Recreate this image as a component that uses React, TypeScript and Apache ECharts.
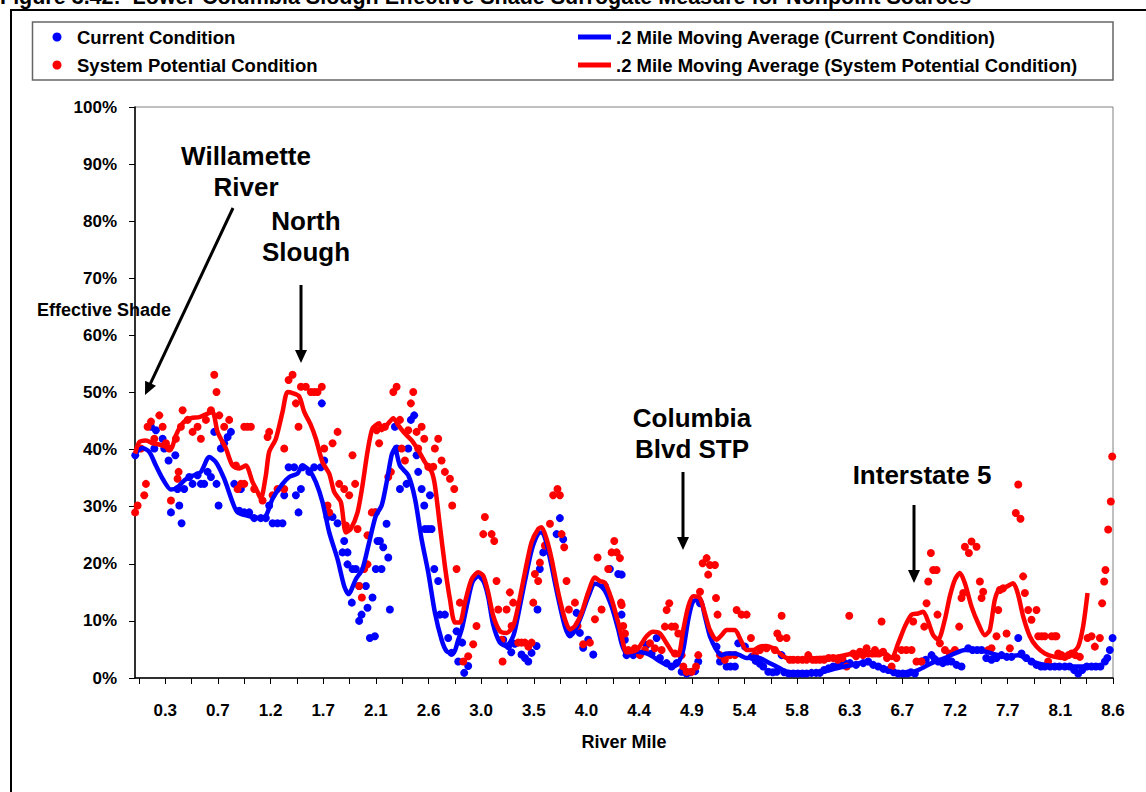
import React, { useEffect, useRef } from 'react';
import * as echarts from 'echarts';

const FONT = '"Liberation Sans", Arial, Helvetica, sans-serif';

const titleText = 'Figure 3.42:  Lower Columbia Slough Effective Shade Surrogate Measure for Nonpoint Sources';
const yAxisTitle = 'Effective Shade';
const xAxisTitle = 'River Mile';

const seriesNames = [
  'Current Condition',
  'System Potential Condition',
  '.2 Mile Moving Average (Current Condition)',
  '.2 Mile Moving Average (System Potential Condition)',
];

const tickLabels = ['0.3', '0.7', '1.2', '1.7', '2.1', '2.6', '3.0', '3.5', '4.0', '4.4', '4.9', '5.4', '5.8', '6.3', '6.7', '7.2', '7.7', '8.1', '8.6'];
const firstLabelMile = 0.3;
const lastLabelMile = 8.6;
const axisMinMile = 0.035;

// [river mile, effective shade %]
const currentCondition: [number, number][] = [
  [0.037, 39.0], [0.175, 44.0], [0.204, 40.2], [0.218, 43.4], [0.277, 41.9], [0.291, 40.2], [0.329, 38.1], [0.35, 29.0],
  [0.388, 39.0], [0.408, 33.1], [0.423, 30.2], [0.443, 27.1], [0.466, 33.1], [0.51, 35.2], [0.539, 34.0], [0.583, 35.5],
  [0.612, 34.0], [0.641, 34.0], [0.671, 36.1], [0.70, 35.2], [0.729, 43.1], [0.749, 34.0], [0.767, 30.2], [0.787, 40.2],
  [0.816, 41.1], [0.846, 42.2], [0.875, 43.1], [0.904, 34.0], [0.948, 29.3], [0.962, 33.1], [0.992, 29.0], [1.035, 29.0],
  [1.079, 28.0], [1.137, 28.0], [1.181, 28.0], [1.21, 30.2], [1.24, 27.1], [1.283, 27.1], [1.327, 27.1], [1.342, 32.0],
  [1.38, 36.9], [1.429, 36.9], [1.444, 32.0], [1.467, 29.0], [1.488, 33.1], [1.502, 36.9], [1.561, 36.1], [1.604, 36.9],
  [1.663, 36.9], [1.671, 48.1], [1.692, 38.1], [1.721, 28.2], [1.765, 28.2], [1.809, 27.1], [1.852, 22.0], [1.867, 24.0],
  [1.896, 22.0], [1.896, 19.9], [1.934, 13.2], [1.94, 19.1], [1.969, 19.1], [1.998, 16.1], [1.998, 10.0], [2.019, 11.1],
  [2.057, 16.1], [2.071, 12.3], [2.092, 7.0], [2.115, 14.1], [2.136, 7.3], [2.144, 19.1], [2.144, 29.0], [2.159, 24.0],
  [2.18, 24.0], [2.194, 19.1], [2.209, 22.9], [2.238, 27.0], [2.253, 21.1], [2.267, 12.0], [2.311, 44.0], [2.326, 40.2],
  [2.355, 33.1], [2.413, 34.0], [2.428, 40.2], [2.451, 45.2], [2.48, 46.0], [2.501, 39.0], [2.515, 36.1], [2.545, 33.1],
  [2.568, 30.2], [2.574, 26.1], [2.603, 26.1], [2.618, 32.0], [2.632, 26.1], [2.656, 19.1], [2.69, 17.0], [2.705, 11.1],
  [2.749, 11.1], [2.778, 7.0], [2.807, 4.4], [2.851, 8.2], [2.866, 2.9], [2.9, 6.2], [2.918, 0.9], [2.953, 2.1],
  [3.26, 6.7], [3.304, 5.6], [3.33, 4.5], [3.36, 6.0], [3.42, 4.1], [3.45, 3.5], [3.479, 2.9], [3.508, 4.4],
  [3.552, 5.6], [3.56, 12.0], [3.58, 19.1], [3.61, 22.0], [3.727, 25.2], [3.756, 28.0], [3.785, 24.3], [3.858, 8.2],
  [3.902, 11.4], [3.931, 7.9], [3.96, 5.3], [4.004, 6.7], [4.048, 4.1], [4.15, 16.1], [4.194, 19.1], [4.267, 18.2],
  [4.296, 11.1], [4.297, 18.1], [4.325, 6.7], [4.34, 4.0], [4.399, 4.0], [4.457, 4.3], [4.515, 5.8], [4.559, 4.3],
  [4.603, 7.0], [4.632, 3.5], [4.691, 2.6], [4.734, 2.0], [4.778, 2.6], [4.822, 1.1], [4.866, 0.8], [4.90, 1.0],
  [4.94, 1.2], [4.968, 2.9], [4.983, 13.1], [5.128, 5.5], [5.158, 2.9], [5.216, 2.0], [5.25, 2.0], [5.289, 2.0],
  [5.318, 6.1], [5.377, 5.5], [5.435, 3.7], [5.47, 3.0], [5.508, 2.5], [5.537, 2.0], [5.581, 1.1], [5.62, 1.0],
  [5.654, 1.1], [5.698, 4.0], [5.72, 1.0], [5.76, 0.8], [5.8, 0.8], [5.84, 0.8], [5.88, 0.8], [5.917, 0.8],
  [5.96, 0.9], [6.0, 0.9], [6.033, 0.9], [6.07, 1.4], [6.11, 1.7], [6.15, 2.0], [6.2, 2.3], [6.25, 2.6],
  [6.296, 2.6], [6.35, 2.3], [6.413, 2.6], [6.456, 2.9], [6.5, 2.3], [6.544, 2.0], [6.59, 1.6], [6.631, 1.4],
  [6.68, 1.0], [6.719, 0.8], [6.76, 0.8], [6.8, 0.8], [6.83, 1.0], [6.865, 0.8], [6.923, 2.9], [6.96, 3.2],
  [7.011, 4.0], [7.04, 3.3], [7.069, 2.9], [7.11, 2.6], [7.15, 2.9], [7.186, 2.9], [7.23, 2.3], [7.273, 2.0],
  [7.332, 5.2], [7.37, 4.9], [7.41, 4.9], [7.449, 4.9], [7.49, 3.5], [7.536, 3.2], [7.58, 3.5], [7.624, 4.0],
  [7.67, 3.7], [7.711, 3.7], [7.77, 7.0], [7.799, 4.3], [7.84, 3.5], [7.886, 2.9], [7.93, 2.3], [7.97, 2.0],
  [8.003, 2.0], [8.05, 2.0], [8.09, 2.0], [8.13, 2.0], [8.178, 2.0], [8.22, 2.0], [8.26, 1.4], [8.295, 0.8],
  [8.33, 1.4], [8.37, 2.0], [8.412, 2.0], [8.45, 2.0], [8.49, 2.0], [8.529, 2.9], [8.55, 3.5], [8.572, 4.9],
  [8.596, 7.0],
];

const systemPotential: [number, number][] = [
  [0.036, 29.0], [0.058, 30.2], [0.087, 40.2], [0.116, 32.0], [0.131, 34.0], [0.145, 44.0], [0.175, 44.9], [0.204, 41.9],
  [0.248, 46.0], [0.277, 44.0], [0.306, 41.1], [0.335, 40.2], [0.35, 31.1], [0.393, 41.9], [0.408, 34.9], [0.417, 36.1],
  [0.437, 44.0], [0.452, 46.9], [0.496, 45.2], [0.539, 43.1], [0.583, 44.0], [0.612, 41.9], [0.656, 45.2], [0.70, 46.9],
  [0.729, 53.1], [0.749, 50.1], [0.773, 46.0], [0.816, 44.0], [0.86, 45.2], [0.919, 37.2], [0.933, 33.1], [0.962, 34.0],
  [0.992, 44.0], [0.992, 34.0], [1.02, 44.0], [1.05, 44.0], [1.079, 33.1], [1.152, 31.1], [1.196, 42.2], [1.21, 43.1],
  [1.24, 32.0], [1.283, 33.1], [1.342, 33.1], [1.342, 40.2], [1.38, 52.2], [1.415, 53.1], [1.444, 48.1], [1.467, 44.0],
  [1.488, 51.0], [1.531, 51.0], [1.575, 50.1], [1.605, 50.1], [1.634, 50.1], [1.671, 51.0], [1.692, 40.2], [1.721, 30.2],
  [1.736, 29.0], [1.765, 41.1], [1.809, 43.1], [1.823, 34.0], [1.867, 33.1], [1.882, 26.7], [1.911, 32.0], [1.94, 39.0],
  [1.963, 34.0], [1.984, 26.1], [1.998, 16.1], [2.022, 14.1], [2.042, 19.1], [2.071, 19.9], [2.071, 25.0], [2.109, 29.0],
  [2.136, 29.0], [2.151, 43.4], [2.173, 41.1], [2.224, 44.0], [2.253, 35.2], [2.276, 36.1], [2.297, 50.1], [2.326, 51.0],
  [2.355, 45.2], [2.37, 40.2], [2.399, 38.1], [2.428, 43.4], [2.451, 48.1], [2.472, 50.1], [2.501, 43.1], [2.515, 40.2],
  [2.545, 44.0], [2.568, 41.9], [2.603, 37.0], [2.647, 37.0], [2.661, 40.2], [2.69, 41.9], [2.72, 38.1], [2.749, 36.1],
  [2.793, 34.9], [2.813, 30.2], [2.831, 33.1], [2.851, 19.1], [2.88, 13.2], [2.91, 2.9], [2.953, 3.8], [2.997, 5.9],
  [3.026, 9.1], [3.085, 25.2], [3.099, 28.2], [3.158, 25.2], [3.181, 24.0], [3.201, 17.0], [3.216, 12.0], [3.245, 6.7],
  [3.254, 2.9], [3.289, 12.0], [3.318, 15.0], [3.333, 9.1], [3.347, 13.2], [3.391, 6.2], [3.42, 6.2], [3.45, 6.2],
  [3.48, 5.5], [3.508, 6.2], [3.523, 13.2], [3.537, 18.2], [3.566, 17.0], [3.581, 20.2], [3.625, 23.2], [3.669, 27.0],
  [3.697, 32.0], [3.735, 33.1], [3.756, 32.0], [3.771, 25.2], [3.794, 22.9], [3.814, 17.0], [3.835, 12.0], [3.888, 13.2],
  [3.911, 9.1], [3.96, 5.9], [4.019, 6.2], [4.063, 10.3], [4.086, 21.1], [4.121, 12.0], [4.179, 19.1], [4.209, 22.0],
  [4.232, 24.0], [4.253, 22.0], [4.282, 21.0], [4.291, 13.2], [4.297, 12.8], [4.311, 9.1], [4.326, 7.8], [4.355, 4.9],
  [4.413, 5.2], [4.457, 4.0], [4.501, 4.9], [4.545, 6.1], [4.588, 5.2], [4.647, 4.9], [4.676, 9.0], [4.691, 11.9],
  [4.714, 13.1], [4.734, 9.0], [4.764, 9.0], [4.764, 4.3], [4.793, 7.8], [4.822, 4.0], [4.837, 2.0], [4.866, 1.1],
  [4.91, 1.1], [4.948, 2.0], [4.968, 4.0], [4.983, 15.1], [5.006, 20.1], [5.041, 21.0], [5.055, 18.1], [5.07, 19.8],
  [5.114, 19.8], [5.123, 14.0], [5.137, 11.1], [5.158, 4.0], [5.201, 3.2], [5.245, 4.0], [5.289, 4.0], [5.304, 11.9],
  [5.347, 11.1], [5.391, 11.1], [5.429, 7.0], [5.464, 4.0], [5.508, 4.9], [5.566, 5.2], [5.639, 4.9], [5.66, 7.8],
  [5.683, 7.0], [5.698, 10.9], [5.741, 7.0], [5.77, 3.2], [5.8, 3.2], [5.84, 3.2], [5.88, 3.2], [5.917, 3.2],
  [5.931, 4.0], [5.97, 3.2], [6.0, 3.2], [6.033, 3.2], [6.07, 3.2], [6.11, 3.5], [6.15, 3.5], [6.19, 3.2],
  [6.23, 3.5], [6.267, 2.0], [6.29, 10.9], [6.325, 4.3], [6.35, 3.8], [6.384, 4.6], [6.41, 4.0], [6.442, 5.2],
  [6.456, 4.3], [6.49, 4.3], [6.515, 4.9], [6.55, 4.3], [6.573, 9.9], [6.587, 4.6], [6.62, 3.5], [6.661, 2.0],
  [6.704, 3.5], [6.748, 4.9], [6.79, 4.9], [6.836, 4.9], [6.85, 9.9], [6.879, 2.9], [6.923, 2.9], [6.947, 9.0],
  [6.967, 13.1], [6.982, 16.9], [7.005, 21.9], [7.025, 18.9], [7.055, 18.9], [7.063, 11.1], [7.084, 6.1], [7.128, 4.9],
  [7.171, 4.3], [7.215, 4.9], [7.253, 9.0], [7.273, 14.0], [7.288, 14.9], [7.303, 23.0], [7.338, 21.9], [7.361, 23.9],
  [7.405, 23.0], [7.434, 16.9], [7.449, 14.0], [7.463, 15.1], [7.507, 4.9], [7.536, 5.2], [7.58, 7.3], [7.595, 11.9],
  [7.609, 15.4], [7.638, 15.7], [7.668, 7.8], [7.697, 5.2], [7.749, 28.9], [7.77, 33.9], [7.79, 27.9], [7.813, 17.8],
  [7.828, 14.9], [7.857, 11.9], [7.886, 10.2], [7.93, 11.9], [7.945, 7.3], [7.975, 7.3], [8.003, 7.3], [8.032, 2.9],
  [8.062, 7.3], [8.09, 7.3], [8.105, 7.3], [8.12, 4.3], [8.15, 4.0], [8.178, 3.7], [8.21, 4.0], [8.237, 4.3],
  [8.27, 4.0], [8.31, 3.7], [8.377, 7.0], [8.412, 7.3], [8.441, 5.5], [8.485, 7.0], [8.505, 13.1], [8.523, 16.9],
  [8.534, 18.9], [8.558, 26.0], [8.581, 30.9], [8.593, 38.8],
];

const movingAvgCurrent: [number, number][] = [
  [0.036, 39.3], [0.10, 40.3], [0.16, 39.6], [0.218, 37.2], [0.277, 34.9], [0.35, 33.0], [0.408, 33.4], [0.466, 34.6],
  [0.539, 35.4], [0.612, 36.1], [0.685, 38.7], [0.744, 37.8], [0.816, 34.9], [0.889, 30.8], [0.933, 29.0], [1.021, 28.4],
  [1.123, 28.0], [1.181, 28.4], [1.24, 31.4], [1.327, 34.0], [1.386, 35.2], [1.458, 35.8], [1.502, 37.2], [1.561, 36.4],
  [1.619, 34.3], [1.677, 30.8], [1.736, 25.5], [1.809, 20.8], [1.867, 16.1], [1.905, 14.7], [1.969, 17.3], [2.027, 19.1],
  [2.086, 23.8], [2.144, 28.4], [2.195, 30.2], [2.239, 34.3], [2.282, 39.0], [2.311, 40.2], [2.355, 37.2], [2.428, 35.5],
  [2.487, 31.4], [2.545, 24.3], [2.603, 18.5], [2.662, 11.4], [2.72, 6.7], [2.764, 4.7], [2.822, 4.4], [2.866, 6.7],
  [2.90, 8.8], [2.95, 13.5], [2.99, 16.8], [3.04, 17.8], [3.09, 16.8], [3.13, 14.0], [3.17, 9.5], [3.23, 6.2],
  [3.29, 5.6], [3.35, 7.5], [3.39, 11.0], [3.45, 17.0], [3.51, 22.5], [3.566, 25.3], [3.60, 25.5], [3.64, 23.5],
  [3.684, 19.5], [3.741, 14.0], [3.80, 9.0], [3.844, 7.3], [3.888, 8.3], [3.946, 11.0], [4.004, 14.2], [4.063, 16.5],
  [4.106, 16.2], [4.15, 15.3], [4.209, 12.5], [4.267, 8.5], [4.30, 5.8], [4.34, 4.3], [4.428, 4.6], [4.515, 4.3],
  [4.573, 3.7], [4.632, 2.9], [4.69, 2.3], [4.748, 2.0], [4.792, 2.6], [4.836, 4.9], [4.88, 10.2], [4.923, 13.4],
  [4.982, 13.7], [5.026, 10.8], [5.07, 7.3], [5.128, 4.9], [5.172, 4.0], [5.216, 4.3], [5.289, 4.3], [5.332, 4.0],
  [5.391, 3.5], [5.449, 3.7], [5.508, 3.5], [5.566, 2.9], [5.624, 2.3], [5.683, 1.7], [5.741, 1.1], [5.858, 0.9],
  [6.033, 1.0], [6.179, 1.7], [6.325, 2.3], [6.43, 2.8], [6.544, 2.0], [6.661, 1.1], [6.777, 0.8], [6.894, 1.4],
  [7.011, 2.6], [7.127, 3.5], [7.215, 4.3], [7.303, 4.9], [7.419, 4.9], [7.536, 4.3], [7.668, 3.7], [7.769, 4.0],
  [7.886, 2.9], [8.003, 2.3], [8.178, 2.0], [8.377, 2.0],
];

const movingAvgPotential: [number, number][] = [
  [0.036, 39.3], [0.072, 41.3], [0.131, 41.6], [0.189, 41.1], [0.247, 40.9], [0.306, 40.5], [0.35, 40.2], [0.393, 42.5],
  [0.452, 44.6], [0.525, 45.5], [0.598, 45.7], [0.671, 46.3], [0.714, 46.6], [0.758, 43.1], [0.831, 40.2], [0.889, 37.2],
  [0.948, 36.7], [1.006, 37.2], [1.065, 34.3], [1.108, 32.6], [1.137, 31.4], [1.181, 35.5], [1.21, 39.6], [1.269, 41.9],
  [1.327, 46.6], [1.371, 50.1], [1.415, 49.9], [1.473, 49.3], [1.517, 46.6], [1.575, 44.3], [1.619, 41.9], [1.677, 37.8],
  [1.736, 35.8], [1.779, 32.6], [1.838, 30.8], [1.882, 25.5], [1.925, 26.1], [1.984, 29.0], [2.027, 33.7], [2.071, 39.6],
  [2.115, 43.7], [2.173, 44.6], [2.195, 43.4], [2.253, 44.6], [2.297, 45.5], [2.34, 44.3], [2.399, 42.8], [2.458, 41.6],
  [2.515, 39.9], [2.574, 37.8], [2.633, 36.1], [2.662, 33.7], [2.705, 26.7], [2.749, 19.6], [2.793, 13.8], [2.837, 9.7],
  [2.88, 9.7], [2.924, 13.2], [2.983, 17.3], [3.041, 18.5], [3.085, 17.9], [3.128, 15.0], [3.172, 10.9], [3.231, 8.2],
  [3.289, 7.9], [3.347, 9.1], [3.391, 12.6], [3.45, 18.5], [3.508, 23.8], [3.566, 26.1], [3.596, 26.4], [3.64, 24.3],
  [3.684, 20.8], [3.741, 15.0], [3.80, 10.3], [3.844, 8.5], [3.888, 9.1], [3.946, 11.4], [4.004, 15.0], [4.063, 17.6],
  [4.106, 17.0], [4.15, 16.7], [4.209, 13.8], [4.267, 9.7], [4.30, 7.0], [4.34, 4.5], [4.428, 4.9], [4.515, 7.3],
  [4.573, 8.1], [4.632, 7.8], [4.69, 6.1], [4.748, 4.3], [4.792, 4.0], [4.836, 8.4], [4.88, 12.5], [4.923, 14.3],
  [4.982, 14.0], [5.026, 11.3], [5.07, 8.4], [5.128, 6.7], [5.172, 7.5], [5.216, 8.4], [5.289, 8.4], [5.332, 7.0],
  [5.391, 4.9], [5.449, 4.9], [5.508, 5.5], [5.566, 5.6], [5.624, 5.2], [5.683, 4.3], [5.741, 3.5], [5.858, 3.3],
  [6.033, 3.5], [6.179, 3.7], [6.325, 4.3], [6.43, 4.5], [6.515, 4.0], [6.602, 4.3], [6.661, 3.5], [6.719, 6.1],
  [6.777, 9.0], [6.836, 11.1], [6.894, 11.3], [6.938, 11.6], [6.981, 9.9], [7.025, 7.5], [7.069, 6.7], [7.127, 10.2],
  [7.171, 14.3], [7.215, 17.2], [7.259, 18.4], [7.303, 16.6], [7.361, 12.5], [7.419, 9.6], [7.478, 7.5], [7.521, 8.4],
  [7.565, 13.7], [7.609, 15.7], [7.668, 16.0], [7.726, 16.6], [7.769, 14.6], [7.813, 10.8], [7.872, 7.3], [7.93, 5.5],
  [8.003, 4.3], [8.091, 3.7], [8.178, 3.5], [8.237, 4.3], [8.295, 5.5], [8.338, 9.0], [8.377, 14.9],
];

const annotationLabels = [
  { lines: ['Willamette', 'River'], x: 246, y: 156 },
  { lines: ['North', 'Slough'], x: 306, y: 221 },
  { lines: ['Columbia', 'Blvd STP'], x: 692, y: 418 },
  { lines: ['Interstate 5'], x: 922, y: 475 },
];

const annotationArrows = [
  { from: [233, 208], to: [145, 395] },
  { from: [301, 285], to: [301, 363] },
  { from: [683, 472], to: [683, 550] },
  { from: [914, 505], to: [914, 583] },
];

function arrowGraphics(from: number[], to: number[]) {
  const dx = to[0] - from[0];
  const dy = to[1] - from[1];
  const len = Math.sqrt(dx * dx + dy * dy);
  const ux = dx / len;
  const uy = dy / len;
  const headLen = 13;
  const halfW = 6;
  const bx = to[0] - ux * headLen;
  const by = to[1] - uy * headLen;
  const nx = -uy;
  const ny = ux;
  return [
    {
      type: 'line',
      z: 100,
      shape: { x1: from[0], y1: from[1], x2: bx + ux * 2, y2: by + uy * 2 },
      style: { stroke: '#000', lineWidth: 3 },
    },
    {
      type: 'polygon',
      z: 100,
      shape: { points: [[to[0], to[1]], [bx + nx * halfW, by + ny * halfW], [bx - nx * halfW, by - ny * halfW]] },
      style: { fill: '#000' },
    },
  ];
}

export default function App() {
  const ref = useRef<HTMLDivElement>(null);

  useEffect(() => {
    if (!ref.current) return;
    const chart = echarts.init(ref.current, null, { renderer: 'svg' });

    const labelStep = (lastLabelMile - firstLabelMile) / (tickLabels.length - 1);
    const labelPositions = tickLabels.map((_, i) => Number((firstLabelMile + i * labelStep).toFixed(5)));
    const tickPositions: number[] = [];
    for (let i = -1; i <= (tickLabels.length - 1) * 2; i++) {
      tickPositions.push(Number((firstLabelMile + (i * labelStep) / 2).toFixed(5)));
    }

    const boldText = (size: number) => ({ fontFamily: FONT, fontWeight: 'bold', fontSize: size, color: '#000' });

    const graphics: any[] = [
      {
        type: 'text', left: 0, top: -14, z: 100,
        style: { text: titleText, font: `bold 21.5px ${FONT}`, fill: '#000' },
      },
      {
        type: 'rect', z: -1, silent: true,
        shape: { x: 11, y: 10, width: 1300, height: 900 },
        style: { fill: 'none', stroke: '#000', lineWidth: 2 },
      },
      {
        type: 'rect', z: -1, silent: true,
        shape: { x: 32.5, y: 22, width: 1080.5, height: 58 },
        style: { fill: 'none', stroke: '#666', lineWidth: 1.5 },
      },
      {
        type: 'text', z: 100,
        x: 37, y: 310,
        style: { text: yAxisTitle, font: `bold 18px ${FONT}`, fill: '#000', textVerticalAlign: 'middle', verticalAlign: 'middle' },
      },
    ];

    annotationLabels.forEach((a) => {
      a.lines.forEach((line, j) => {
        graphics.push({
          type: 'text', z: 100,
          x: a.x, y: a.y + j * 31,
          style: {
            text: line, font: `bold 26px ${FONT}`, fill: '#000',
            textAlign: 'center', align: 'center', textVerticalAlign: 'middle', verticalAlign: 'middle',
          },
        });
      });
    });
    annotationArrows.forEach((a) => graphics.push(...arrowGraphics(a.from, a.to)));

    const option: any = {
      animation: false,
      backgroundColor: '#ffffff',
      textStyle: { fontFamily: FONT },
      grid: {
        left: 135, right: 33, top: 107, bottom: 114,
        show: true, borderColor: '#808080', borderWidth: 1, backgroundColor: 'transparent',
      },
      legend: [
        {
          data: [seriesNames[0], seriesNames[1]],
          orient: 'vertical', left: 47.5, top: 22,
          itemWidth: 30, itemHeight: 9, itemGap: 8, icon: 'circle',
          selectedMode: false,
          itemStyle: { opacity: 1 },
          textStyle: { ...boldText(18.5), lineHeight: 20 },
        },
        {
          data: [seriesNames[2], seriesNames[3]],
          orient: 'vertical', left: 573, top: 22,
          itemWidth: 33, itemHeight: 5, itemGap: 8, icon: 'rect',
          selectedMode: false,
          textStyle: { ...boldText(18.5), lineHeight: 20 },
        },
      ],
      xAxis: {
        type: 'value',
        min: axisMinMile,
        max: lastLabelMile,
        name: xAxisTitle,
        nameLocation: 'middle',
        nameGap: 55,
        nameTextStyle: boldText(18),
        axisLine: { show: true, onZero: false, lineStyle: { color: '#000', width: 1.5 } },
        axisTick: { show: true, length: 6, lineStyle: { color: '#000', width: 1 }, customValues: tickPositions },
        axisLabel: {
          ...boldText(17),
          margin: 24,
          customValues: labelPositions,
          showMinLabel: true,
          showMaxLabel: true,
          formatter: (v: number) => {
            const i = Math.round((v - firstLabelMile) / labelStep);
            return tickLabels[i] ?? '';
          },
        },
        splitLine: { show: false },
      },
      yAxis: {
        type: 'value',
        min: 0,
        max: 100,
        interval: 10,
        axisLine: { show: true, lineStyle: { color: '#000', width: 1.5 } },
        axisTick: { show: true, length: 6, lineStyle: { color: '#000', width: 1 } },
        axisLabel: { ...boldText(17), margin: 18, formatter: '{value}%' },
        splitLine: { show: false },
      },
      series: [
        {
          name: seriesNames[0], type: 'scatter', data: currentCondition,
          symbol: 'circle', symbolSize: 8, clip: false,
          itemStyle: { color: '#0000ff', opacity: 1 },
        },
        {
          name: seriesNames[1], type: 'scatter', data: systemPotential,
          symbol: 'circle', symbolSize: 8, clip: false,
          itemStyle: { color: '#ff0000', opacity: 1 },
        },
        {
          name: seriesNames[2], type: 'line', data: movingAvgCurrent,
          symbol: 'none', smooth: 0.25,
          lineStyle: { color: '#0000ff', width: 4.5 }, itemStyle: { color: '#0000ff' },
        },
        {
          name: seriesNames[3], type: 'line', data: movingAvgPotential,
          symbol: 'none', smooth: 0.25,
          lineStyle: { color: '#ff0000', width: 4.5 }, itemStyle: { color: '#ff0000' },
        },
      ],
      graphic: graphics,
    };

    chart.setOption(option);
    return () => chart.dispose();
  }, []);

  return (
    <div
      ref={ref}
      style={{ position: 'fixed', left: 0, top: 0, width: 1146, height: 792, background: '#fff' }}
    />
  );
}
